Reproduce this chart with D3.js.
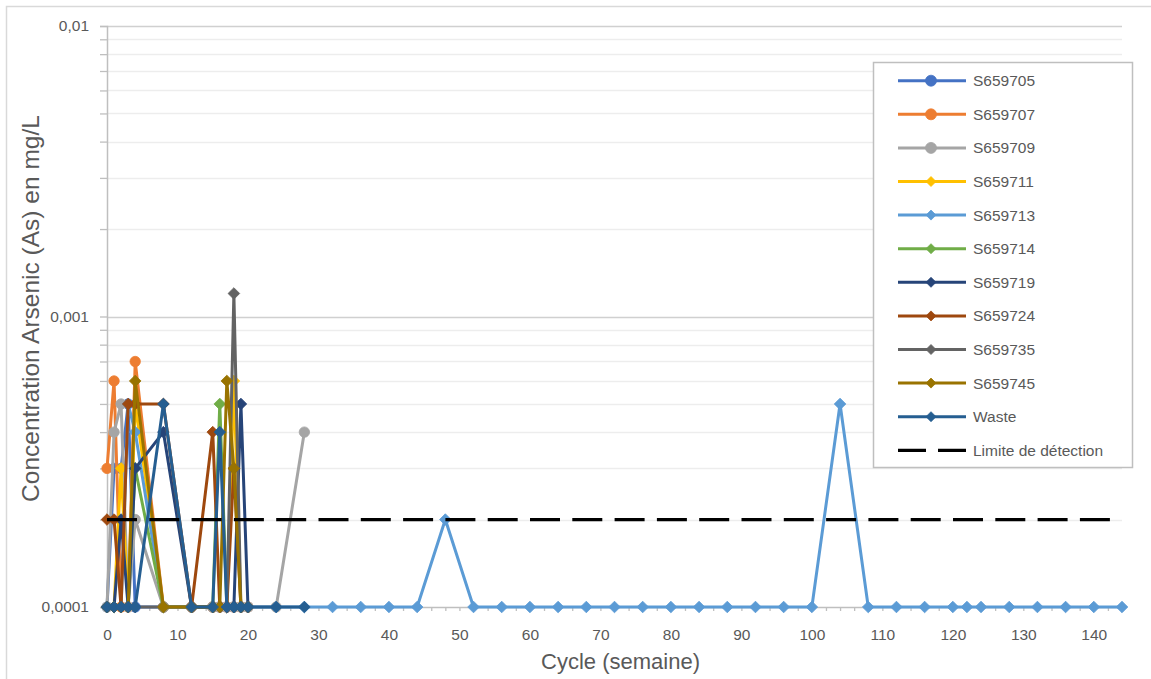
<!DOCTYPE html>
<html lang="fr">
<head>
<meta charset="utf-8">
<title>Concentration Arsenic (As)</title>
<script src="https://cdn.jsdelivr.net/npm/d3@7/dist/d3.min.js"></script>
<style>
  html, body { margin: 0; padding: 0; background: #ffffff; }
  svg { display: block; font-family: "Liberation Sans", Arial, sans-serif; }
</style>
</head>
<body>
<svg id="chart" width="1151" height="679"></svg>
<script>
// Sampling cycles (weeks) for each series
const cyclesEarly = [0, 1, 2, 3, 4, 8, 12, 15, 16, 17, 18, 19, 20];
const cyclesExtended = [0, 1, 2, 3, 4, 8, 12, 15, 16, 17, 18, 19, 20, 24, 28];
const cyclesLong = [0, 1, 2, 3, 4, 8, 12, 15, 16, 17, 18, 19, 20, 24, 28, 32, 36, 40, 44, 48,
  52, 56, 60, 64, 68, 72, 76, 80, 84, 88, 92, 96, 100, 104, 108, 112, 116, 120, 122, 124,
  128, 132, 136, 140, 144];

// Arsenic concentrations (mg/L)
const s659705 = [0.0001, 0.0003, 0.0003, 0.0005, 0.0001, 0.0001, 0.0001, 0.0001, 0.0001, 0.0001, 0.0001, 0.0001, 0.0001];
const s659707 = [0.0003, 0.0006, 0.0001, 0.0001, 0.0007, 0.0001, 0.0001, 0.0001, 0.0001, 0.0001, 0.0001, 0.0001, 0.0001];
const s659709 = [0.0001, 0.0004, 0.0005, 0.0001, 0.0002, 0.0001, 0.0001, 0.0001, 0.0001, 0.0001, 0.0001, 0.0001, 0.0001, 0.0001, 0.0004];
const s659711 = [0.0001, 0.0001, 0.0003, 0.0001, 0.0005, 0.0001, 0.0001, 0.0001, 0.0001, 0.0001, 0.0006, 0.0001, 0.0001];
const s659713 = [0.0001, 0.0001, 0.0001, 0.0005, 0.0004, 0.0001, 0.0001, 0.0001, 0.0001, 0.0001, 0.0001, 0.0001, 0.0001,
  0.0001, 0.0001, 0.0001, 0.0001, 0.0001, 0.0001, 0.0002, 0.0001, 0.0001, 0.0001, 0.0001, 0.0001, 0.0001, 0.0001,
  0.0001, 0.0001, 0.0001, 0.0001, 0.0001, 0.0001, 0.0005, 0.0001, 0.0001, 0.0001, 0.0001, 0.0001, 0.0001,
  0.0001, 0.0001, 0.0001, 0.0001, 0.0001];
const s659714 = [0.0001, 0.0001, 0.0001, 0.0001, 0.0003, 0.0001, 0.0001, 0.0001, 0.0005, 0.0001, 0.0001, 0.0001, 0.0001];
const s659719 = [0.0001, 0.0001, 0.0002, 0.0001, 0.0003, 0.0004, 0.0001, 0.0001, 0.0001, 0.0001, 0.0001, 0.0005, 0.0001];
const s659724 = [0.0002, 0.0002, 0.0001, 0.0005, 0.0005, 0.0005, 0.0001, 0.0004, 0.0001, 0.0001, 0.0003, 0.0001, 0.0001];
const s659735 = [0.0001, 0.0001, 0.0001, 0.0001, 0.0001, 0.0001, 0.0001, 0.0001, 0.0001, 0.0001, 0.0012, 0.0001, 0.0001];
const s659745 = [0.0001, 0.0001, 0.0001, 0.0001, 0.0006, 0.0001, 0.0001, 0.0001, 0.0001, 0.0006, 0.0003, 0.0001, 0.0001];
const waste = [0.0001, 0.0001, 0.0001, 0.0001, 0.0001, 0.0005, 0.0001, 0.0001, 0.0004, 0.0001, 0.0001, 0.0001, 0.0001, 0.0001, 0.0001];

// Detection limit (mg/L) across the whole period
const limitCycles = [0, 144];
const limitValues = [0.0002, 0.0002];

const seriesNames = ["S659705", "S659707", "S659709", "S659711", "S659713", "S659714",
  "S659719", "S659724", "S659735", "S659745", "Waste"];
const seriesCycles = [cyclesEarly, cyclesEarly, cyclesExtended, cyclesEarly, cyclesLong, cyclesEarly,
  cyclesEarly, cyclesEarly, cyclesEarly, cyclesEarly, cyclesExtended];
const seriesValues = [s659705, s659707, s659709, s659711, s659713, s659714,
  s659719, s659724, s659735, s659745, waste];
const limitName = "Limite de détection";

// Axis labels
const xTickLabels = [0, 10, 20, 30, 40, 50, 60, 70, 80, 90, 100, 110, 120, 130, 140];
const yTickLabels = ["0,0001", "0,001", "0,01"];
const yTickValues = [0.0001, 0.001, 0.01];
const xTitle = "Cycle (semaine)";
const yTitle = "Concentration Arsenic (As) en mg/L";

// Styling
const seriesColors = ["#4472C4", "#ED7D31", "#A5A5A5", "#FFC000", "#5B9BD5", "#70AD47",
  "#264478", "#9E480E", "#636363", "#997300", "#255E91"];
const seriesMarkers = ["circle", "circle", "circle", "diamond", "diamond", "diamond",
  "diamond", "diamond", "diamond", "diamond", "diamond"];
const textColor = "#595959";

const svg = d3.select("#chart");
const W = 1151, H = 679;
const plot = { left: 107, right: 1122, top: 26, bottom: 607 };

const x = d3.scaleLinear().domain([0, 144]).range([plot.left, plot.right]);
const y = d3.scaleLog().domain([0.0001, 0.01]).range([plot.bottom, plot.top]);

// Outer chart frame
svg.append("rect")
  .attr("x", 6.5).attr("y", 6.5).attr("width", W + 10).attr("height", H + 10)
  .attr("fill", "#ffffff").attr("stroke", "#D9D9D9").attr("stroke-width", 1.5);

// Horizontal gridlines (major decades darker, minor lighter)
const gridValues = y.ticks().filter(v => v > 0.0001 * 1.0001);
const isDecade = v => Math.abs(Math.log10(v) - Math.round(Math.log10(v))) < 1e-6;
svg.append("g").selectAll("line")
  .data(gridValues)
  .join("line")
  .attr("x1", plot.left).attr("x2", plot.right)
  .attr("y1", d => Math.round(y(d)) + 0.5).attr("y2", d => Math.round(y(d)) + 0.5)
  .attr("stroke", d => isDecade(d) ? "#D0D0D0" : "#EDEDED")
  .attr("stroke-width", d => isDecade(d) ? 1.5 : 1.3);

// Y axis: small ticks at every log step, labels at decades
const yAxis = d3.axisLeft(y)
  .tickValues(y.ticks())
  .tickSize(7)
  .tickPadding(11)
  .tickFormat(d => {
    const i = yTickValues.findIndex(v => Math.abs(v - d) < 1e-12);
    return i >= 0 ? yTickLabels[i] : "";
  });
const gy = svg.append("g").attr("transform", `translate(${plot.left},0)`).call(yAxis);
gy.select(".domain").attr("stroke", "#BFBFBF").attr("stroke-width", 1.5);
gy.selectAll(".tick line").attr("stroke", "#BFBFBF").attr("stroke-width", 1.3);
gy.selectAll(".tick text").attr("fill", textColor).style("font-size", "15.5px");

// X axis: minor ticks every 2 weeks, labels every 10
const minorX = d3.range(0, 145, 2);
const gxMinor = svg.append("g").attr("transform", `translate(0,${plot.bottom})`)
  .call(d3.axisBottom(x).tickValues(minorX).tickSize(4).tickFormat(""));
gxMinor.select(".domain").attr("stroke", "#BFBFBF").attr("stroke-width", 1.5)
  .attr("d", `M${plot.left},0.5H${plot.right}`);
gxMinor.selectAll(".tick line").attr("stroke", "#BFBFBF").attr("stroke-width", 1.3);

const gx = svg.append("g").attr("transform", `translate(0,${plot.bottom})`)
  .call(d3.axisBottom(x).tickValues(xTickLabels).tickSize(0).tickPadding(22).tickFormat(d => String(d)));
gx.select(".domain").remove();
gx.selectAll(".tick text").attr("fill", textColor).style("font-size", "15.5px");

// Axis titles
svg.append("text")
  .attr("x", (plot.left + plot.right) / 2 + 6).attr("y", 669)
  .attr("text-anchor", "middle").attr("fill", textColor)
  .style("font-size", "22px")
  .text(xTitle);
svg.append("text")
  .attr("transform", `translate(39,${(plot.top + plot.bottom) / 2 - 8}) rotate(-90)`)
  .attr("text-anchor", "middle").attr("fill", textColor)
  .style("font-size", "24.5px")
  .text(yTitle);

// Marker drawing helper: circles and square-rotated diamonds
function diamondPath(r) {
  return `M0,${-r}L${r},0L0,${r}L${-r},0Z`;
}
function drawMarker(g, type, cx, cy, color, legend) {
  if (type === "circle") {
    g.append("circle").attr("cx", cx).attr("cy", cy).attr("r", legend ? 5.5 : 5.2)
      .attr("fill", color).attr("stroke", color).attr("stroke-width", 0.8);
  } else {
    g.append("path").attr("d", diamondPath(legend ? 5 : 5.8))
      .attr("transform", `translate(${cx},${cy})`)
      .attr("fill", color).attr("stroke", color).attr("stroke-width", 0.8)
      .attr("stroke-linejoin", "round");
  }
}

const line = d3.line().x(d => x(d.c)).y(d => y(d.v));

// Series lines and markers
const seriesLayer = svg.append("g");
seriesNames.forEach((name, i) => {
  const pts = seriesCycles[i].map((c, k) => ({ c, v: seriesValues[i][k] }));
  const g = seriesLayer.append("g");
  g.append("path")
    .datum(pts)
    .attr("d", line)
    .attr("fill", "none")
    .attr("stroke", seriesColors[i])
    .attr("stroke-width", 3)
    .attr("stroke-linejoin", "round");
  pts.forEach(p => drawMarker(g, seriesMarkers[i], x(p.c), y(p.v), seriesColors[i], false));
});

// Detection limit
svg.append("path")
  .datum(limitCycles.map((c, k) => ({ c, v: limitValues[k] })))
  .attr("d", line)
  .attr("fill", "none")
  .attr("stroke", "#000000")
  .attr("stroke-width", 3.2)
  .attr("stroke-dasharray", "30,12.3");

// Legend
const legend = { x: 873, y: 62, w: 259, h: 405, first: 80.7, step: 33.6 };
const lg = svg.append("g");
lg.append("rect")
  .attr("x", legend.x + 0.5).attr("y", legend.y + 0.5)
  .attr("width", legend.w).attr("height", legend.h)
  .attr("fill", "#ffffff").attr("stroke", "#BFBFBF").attr("stroke-width", 1.5);

seriesNames.forEach((name, i) => {
  const cy = legend.first + i * legend.step;
  lg.append("line").attr("x1", 898).attr("x2", 966).attr("y1", cy).attr("y2", cy)
    .attr("stroke", seriesColors[i]).attr("stroke-width", 3);
  drawMarker(lg, seriesMarkers[i], 931, cy, seriesColors[i], true);
  lg.append("text").attr("x", 973).attr("y", cy).attr("dy", "0.36em")
    .attr("fill", textColor).style("font-size", "15.5px").text(name);
});
{
  const cy = legend.first + seriesNames.length * legend.step;
  lg.append("line").attr("x1", 898).attr("x2", 966).attr("y1", cy).attr("y2", cy)
    .attr("stroke", "#000000").attr("stroke-width", 3.2).attr("stroke-dasharray", "28,12");
  lg.append("text").attr("x", 973).attr("y", cy).attr("dy", "0.36em")
    .attr("fill", textColor).style("font-size", "15.5px").text(limitName);
}
</script>
</body>
</html>
